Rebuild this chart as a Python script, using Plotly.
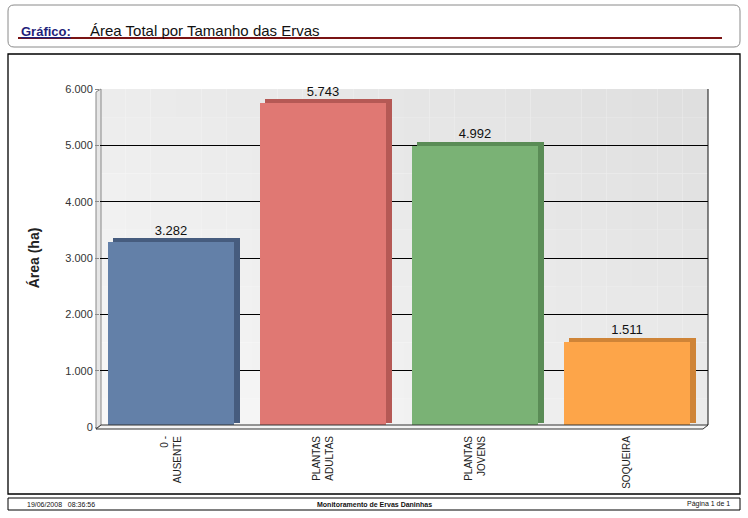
import plotly.graph_objects as go

categories = ["0 -<br>AUSENTE", "PLANTAS<br>ADULTAS", "PLANTAS<br>JOVENS", "SOQUEIRA"]
values = [3282, 5743, 4992, 1511]
value_labels = ["3.282", "5.743", "4.992", "1.511"]
y_ticks = [0, 1000, 2000, 3000, 4000, 5000, 6000]
y_tick_labels = ["0", "1.000", "2.000", "3.000", "4.000", "5.000", "6.000"]
front_colors = ["#6380a8", "#e07873", "#7ab275", "#fda549"]
side_colors = ["#465c7e", "#b55955", "#5a8c56", "#cf8437"]

FW, FH = 748, 518
L, R, T, B = 100, 40, 89, 91
W = FW - L - R
H = FH - T - B


def px(x):
    return (x - L) / W


def py(y):
    return (FH - B - y) / H


idx = list(range(len(categories)))
bw = 0.835
shift = 0.033
depth = 75

fig = go.Figure()
# 3D side/top face (darker, offset)
fig.add_trace(go.Bar(
    x=idx, y=values, base=[depth] * len(values), width=bw,
    offset=-bw / 2 + 0.003, marker=dict(color=side_colors, line=dict(width=0)),
    hoverinfo="skip", showlegend=False,
))
# front face
fig.add_trace(go.Bar(
    x=idx, y=values, width=bw, offset=-bw / 2 - shift,
    marker=dict(color=front_colors, line=dict(width=0)),
    showlegend=False,
))
fig.add_trace(go.Scatter(
    x=[i - shift for i in idx], y=[v + depth for v in values], mode="text", text=value_labels,
    textposition="top center",
    textfont=dict(family="Arial, Liberation Sans", size=13, color="#111"),
    showlegend=False, hoverinfo="skip", cliponaxis=False,
))

shapes = []
# gradient background in plot area
nx, ny = 24, 12
for i in range(nx):
    for j in range(ny):
        xf = (i + 0.5) / nx
        yf = (j + 0.5) / ny
        lv = int(round(249 - 14 * xf - 13 * yf))
        shapes.append(dict(type="rect", xref="paper", yref="paper",
                           x0=i / nx, x1=(i + 1) / nx, y0=j / ny, y1=(j + 1) / ny,
                           line=dict(width=0), fillcolor=f"rgb({lv},{lv},{lv})",
                           layer="below"))
# left wall
shapes.append(dict(type="path", xref="paper", yref="paper",
                   path=f"M {px(96)} {py(429)} L {px(101)} {py(425)} L {px(101)} {py(89)} L {px(96)} {py(92)} Z",
                   fillcolor="#e6e6e6", line=dict(color="#888", width=1), layer="below"))
# floor
shapes.append(dict(type="path", xref="paper", yref="paper",
                   path=f"M {px(96)} {py(429)} L {px(703)} {py(429)} L {px(708)} {py(425)} L {px(101)} {py(425)} Z",
                   fillcolor="#f4f4f4", line=dict(color="#333", width=1), layer="above"))
# right edge
shapes.append(dict(type="line", xref="paper", yref="paper",
                   x0=1, x1=1, y0=py(425), y1=1, line=dict(color="#111", width=1)))
# header box
x0, x1, y0, y1, r = px(8), px(740), py(5), py(47), 6
rx, ry = r / W, r / H
shapes.append(dict(type="path", xref="paper", yref="paper",
                   path=(f"M {x0+rx} {y0} L {x1-rx} {y0} Q {x1} {y0} {x1} {y0-ry} "
                         f"L {x1} {y1+ry} Q {x1} {y1} {x1-rx} {y1} L {x0+rx} {y1} "
                         f"Q {x0} {y1} {x0} {y1+ry} L {x0} {y0-ry} Q {x0} {y0} {x0+rx} {y0} Z"),
                   line=dict(color="#8a8a8a", width=1)))
shapes.append(dict(type="line", xref="paper", yref="paper",
                   x0=px(18), x1=px(722), y0=py(38), y1=py(38),
                   line=dict(color="#7a1414", width=2)))
# main box
shapes.append(dict(type="rect", xref="paper", yref="paper",
                   x0=px(8), x1=px(740), y0=py(494), y1=py(54),
                   line=dict(color="#000", width=1.3)))
# footer box
shapes.append(dict(type="rect", xref="paper", yref="paper",
                   x0=px(8), x1=px(740), y0=py(510), y1=py(498),
                   line=dict(color="#000", width=1)))

annotations = [
    dict(xref="paper", yref="paper", x=px(19), y=py(31), xanchor="left", yanchor="middle",
         text="<b><u>Gráfico:</u></b>", showarrow=False,
         font=dict(family="Arial, Liberation Sans", size=13, color="#1f1f7a")),
    dict(xref="paper", yref="paper", x=px(88), y=py(30), xanchor="left", yanchor="middle",
         text="Área Total por Tamanho das Ervas", showarrow=False,
         font=dict(family="Arial, Liberation Sans", size=15, color="#111")),
    dict(xref="paper", yref="paper", x=px(25), y=py(504), xanchor="left", yanchor="middle",
         text="19/06/2008   08:36:56", showarrow=False,
         font=dict(family="Arial, Liberation Sans", size=7, color="#111")),
    dict(xref="paper", yref="paper", x=px(374), y=py(504), xanchor="center", yanchor="middle",
         text="<b>Monitoramento de Ervas Daninhas</b>", showarrow=False,
         font=dict(family="Arial, Liberation Sans", size=7, color="#111")),
    dict(xref="paper", yref="paper", x=px(732), y=py(504), xanchor="right", yanchor="middle",
         text="Página 1 de 1", showarrow=False,
         font=dict(family="Arial, Liberation Sans", size=7, color="#111")),
]

fig.update_layout(
    width=FW, height=FH,
    margin=dict(l=L, r=R, t=T, b=B, pad=0),
    paper_bgcolor="white", plot_bgcolor="rgba(0,0,0,0)",
    shapes=shapes, annotations=annotations,
    bargap=0, barmode="overlay",
    font=dict(family="Arial, Liberation Sans"),
    xaxis=dict(range=[-0.5, 3.5], tickmode="array", tickvals=idx, ticktext=categories,
               tickangle=-90, showgrid=False, zeroline=False, showline=False,
               ticks="", tickfont=dict(size=10, color="#222"), fixedrange=True,
               ticklabelstandoff=6, ticklabelshift=-5),
    yaxis=dict(range=[0, 6000], tickmode="array", tickvals=y_ticks, ticktext=y_tick_labels,
               showgrid=True, gridcolor="#000", gridwidth=1, zeroline=False,
               showline=False, ticks="outside", ticklen=4, tickcolor="#888",
               tickfont=dict(size=11, color="#333"),
               title=dict(text="<b>Área (ha)</b>", standoff=22,
                          font=dict(size=14, color="#222"))),
)

fig.write_html("out.html", config={"displayModeBar": False},
               post_script="document.body.style.margin='0';document.body.style.overflow='hidden';")
